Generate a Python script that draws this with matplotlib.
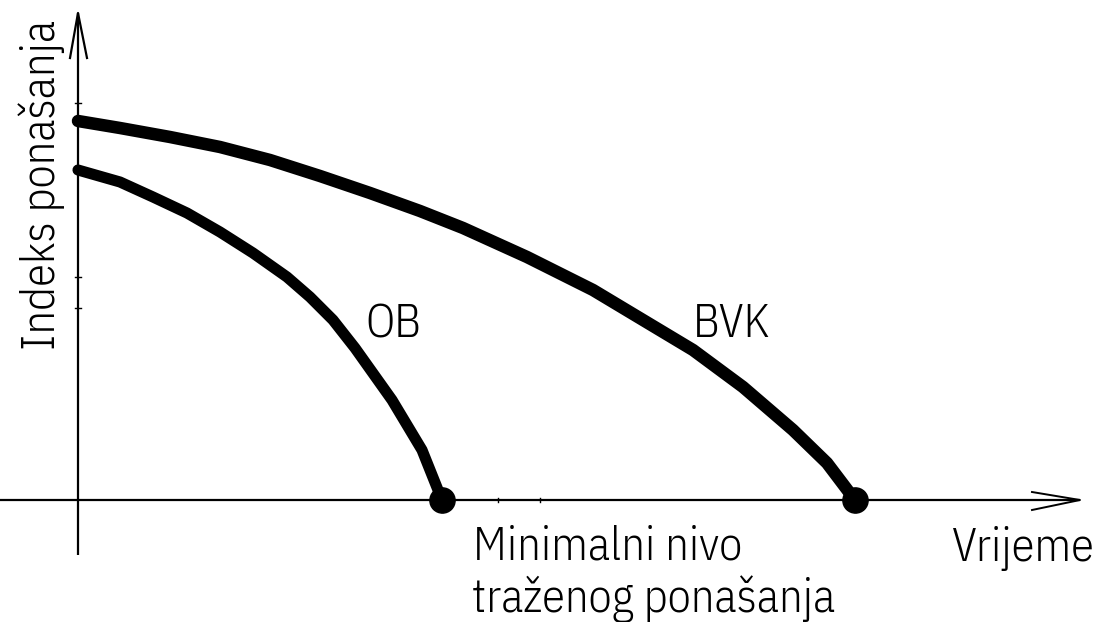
import matplotlib
matplotlib.use("Agg")
import matplotlib.pyplot as plt

# Curve data (x = time, y = performance index), origin at axis intersection
bvk_x = [0, 42, 92, 142, 192, 242, 292, 342, 385, 449, 515, 565, 615, 665, 715, 749, 777]
bvk_y = [379, 372, 363, 353, 340, 324, 307, 289, 272, 243, 210, 180, 150, 113, 70, 37, 0]
ob_x = [0, 42, 75, 109, 142, 175, 209, 232, 255, 277, 314, 344, 364]
ob_y = [330, 318, 303, 287, 268, 247, 223, 203, 180, 152, 100, 50, 0]
end_x = [364, 777]
end_y = [0, 0]

curve_labels = ["OB", "BVK"]
curve_label_x = [287, 615]
curve_label_y = [163, 163]

x_label = "Vrijeme"
y_label = "Indeks ponašanja"
min_label = ["Minimalni nivo", "traženog ponašanja"]

W, H = 1096, 622
ox, oy = 78, 500
fig = plt.figure(figsize=(W / 100, H / 100), dpi=100)
ax = fig.add_axes([0, 0, 1, 1])
ax.set_xlim(-ox, W - ox)
ax.set_ylim(oy - H, oy)
ax.axis("off")

fam = ["IBM Plex Sans Condensed", "DejaVu Sans"]
fkw = dict(family=fam, weight=300, stretch="condensed", color="black")
fs = 33.5
k = "black"

# axes lines
ax.plot([-ox, 1002], [0, 0], color=k, lw=1.6, solid_capstyle="butt")
ax.plot([0, 0], [-55, 487], color=k, lw=1.6, solid_capstyle="butt")
# arrow heads (open)
ax.plot([-8, 0, 9], [442, 487, 442], color=k, lw=1.6)
ax.plot([954, 1002, 954], [8, 0, -10], color=k, lw=1.4)
# small ticks
for ty in [397, 223, 192]:
    ax.plot([-3, 3], [ty, ty], color=k, lw=1)
for tx in [420, 462]:
    ax.plot([tx, tx], [-2, 2], color=k, lw=1)

# curves
ax.plot(bvk_x, bvk_y, color=k, lw=9, solid_capstyle="round", solid_joinstyle="round")
ax.plot(ob_x, ob_y, color=k, lw=8, solid_capstyle="round", solid_joinstyle="round")
ax.scatter(end_x, end_y, s=330, color=k, zorder=5)

for t, x, y in zip(curve_labels, curve_label_x, curve_label_y):
    ax.text(x, y, t, fontsize=fs, ha="left", va="baseline", **fkw)

ax.text(-23, 315, y_label, rotation=90, rotation_mode="anchor", fontsize=fs,
        ha="center", va="baseline", **fkw)
ax.text(874, -61, x_label, fontsize=fs, ha="left", va="baseline", **fkw)
ax.text(395, -59, min_label[0], fontsize=fs, ha="left", va="baseline", **fkw)
ax.text(394, -112, min_label[1], fontsize=fs, ha="left", va="baseline", **fkw)

fig.savefig("out.png", dpi=100, facecolor="white")
